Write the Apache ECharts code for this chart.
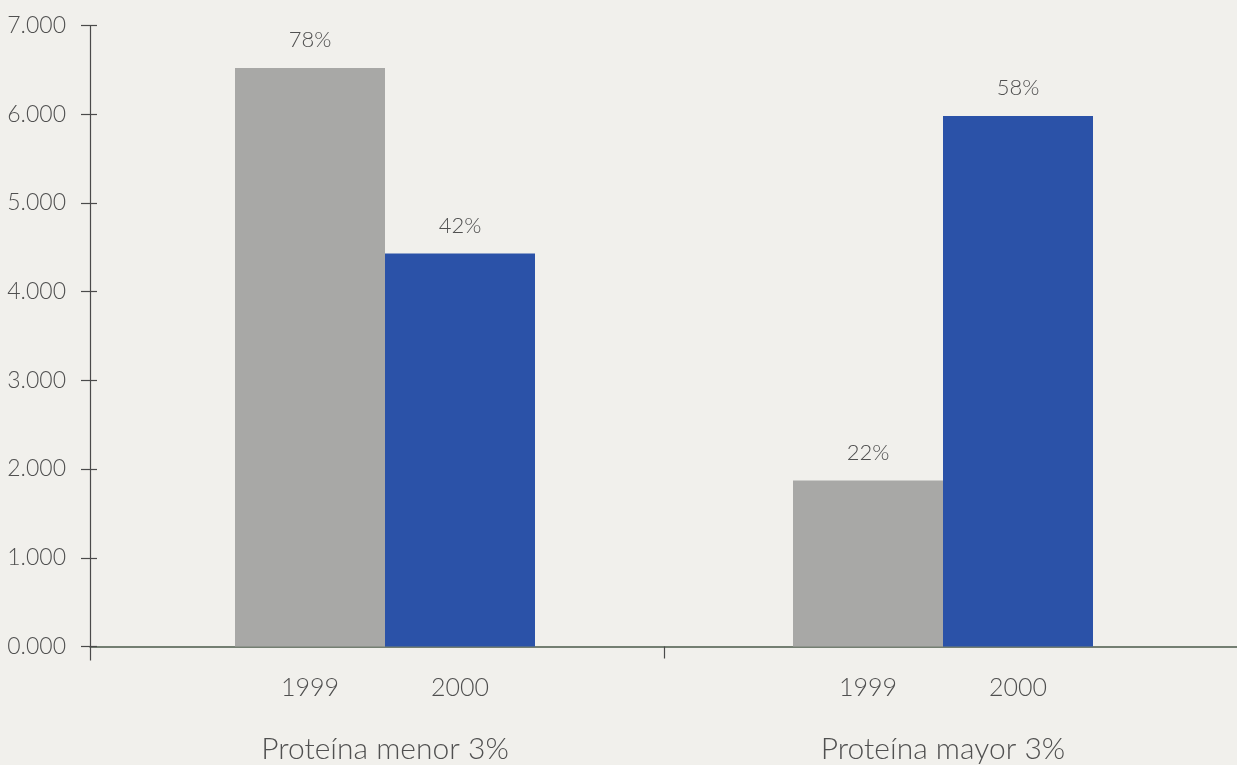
<!DOCTYPE html>
<html>
<head>
<meta charset="utf-8">
<script src="https://cdn.jsdelivr.net/npm/echarts@6/dist/echarts.min.js"></script>
<style>
html,body{margin:0;padding:0;background:#f1f0ec;}
#chart{width:1237px;height:765px;}
</style>
</head>
<body>
<div id="chart"></div>
<script>
const categories = ['Proteína menor 3%', 'Proteína mayor 3%'];
const seriesNames = ['1999', '2000'];
const values1999 = [6520, 1870];
const values2000 = [4430, 5980];
const pct1999 = ['78%', '22%'];
const pct2000 = ['42%', '58%'];
const yTicks = [0, 1000, 2000, 3000, 4000, 5000, 6000, 7000];

const FONT = 'Lato';
const FW = 300;
const TXT = '#505050';
const AXIS_Y = '#4a4a4a';
const AXIS_X = '#4b5a49';

function makeSeries(name, vals, pcts, color) {
  return {
    name: name,
    type: 'bar',
    xAxisIndex: 1,
    yAxisIndex: 2,
    barWidth: 150,
    barGap: '0%',
    data: vals.map((v, i) => ({ value: v, pct: pcts[i] })),
    itemStyle: { color: color },
    label: {
      show: true,
      position: 'top',
      distance: 17,
      formatter: p => p.data.pct,
      fontFamily: FONT,
      fontWeight: FW,
      fontSize: 22,
      color: TXT
    }
  };
}

function yearLabelSeries(name, vals) {
  return {
    name: name + '_lbl',
    type: 'bar',
    xAxisIndex: 2,
    yAxisIndex: 2,
    barWidth: 150,
    barGap: '0%',
    data: vals.map(() => 0),
    itemStyle: { color: 'transparent' },
    silent: true,
    label: {
      show: true,
      position: 'bottom',
      distance: 29,
      formatter: () => name,
      fontFamily: FONT,
      fontWeight: FW,
      fontSize: 25,
      color: TXT
    }
  };
}

const yMin = yTicks[0], yMax = yTicks[yTicks.length - 1];
const chart = echarts.init(document.getElementById('chart'), null, { renderer: 'canvas' });
const option = {
  backgroundColor: '#f1f0ec',
  animation: false,
  grid: [
    { left: 90, right: 0, top: 25.5, bottom: 118.5 },
    { left: 106, right: 15, top: 25.5, bottom: 118.5 }
  ],
  xAxis: [{
    gridIndex: 0,
    position: 'bottom',
    type: 'value',
    min: 0, max: 1,
    axisLine: { show: true, lineStyle: { color: AXIS_X, width: 1.5 } },
    axisTick: { show: true, customValues: [0], length: 14, lineStyle: { color: AXIS_Y, width: 1.2 } },
    axisLabel: { show: false },
    splitLine: { show: false }
  }, {
    gridIndex: 1,
    position: 'bottom',
    type: 'category',
    data: categories,
    axisLine: { show: false },
    axisTick: { show: false },
    axisLabel: { margin: 88, fontFamily: FONT, fontWeight: FW, fontSize: 30, color: TXT }
  }, {
    gridIndex: 1,
    position: 'bottom',
    type: 'category',
    data: categories,
    show: false
  }, {
    gridIndex: 1,
    position: 'bottom',
    type: 'value',
    min: 0, max: categories.length,
    axisLine: { show: false },
    axisTick: { show: true, customValues: [1], length: 12, lineStyle: { color: AXIS_Y, width: 1.2 } },
    axisLabel: { show: false },
    splitLine: { show: false }
  }],
  yAxis: [{
    gridIndex: 0,
    position: 'left',
    type: 'value',
    min: yMin, max: yMax, interval: 1000,
    splitLine: { show: false },
    axisLine: { show: true, lineStyle: { color: AXIS_Y, width: 1.2 } },
    axisTick: { show: true, length: 9, lineStyle: { color: AXIS_Y, width: 1.2 } },
    axisLabel: {
      margin: 24,
      fontFamily: FONT,
      fontWeight: FW,
      fontSize: 23,
      color: TXT,
      formatter: v => (v / 1000).toFixed(3)
    }
  }, {
    gridIndex: 0,
    position: 'left',
    type: 'value',
    min: yMin, max: yMax, interval: 1000,
    splitLine: { show: false },
    axisLine: { show: false },
    axisTick: { show: true, inside: true, length: 7, lineStyle: { color: AXIS_Y, width: 1.2 } },
    axisLabel: { show: false }
  }, {
    gridIndex: 1,
    position: 'left',
    type: 'value',
    min: yMin, max: yMax, interval: 1000,
    show: false
  }],
  series: [
    makeSeries(seriesNames[0], values1999, pct1999, '#a8a8a6'),
    makeSeries(seriesNames[1], values2000, pct2000, '#2b52a8'),
    yearLabelSeries(seriesNames[0], values1999),
    yearLabelSeries(seriesNames[1], values2000)
  ]
};
chart.setOption(option);
</script>
</body>
</html>
